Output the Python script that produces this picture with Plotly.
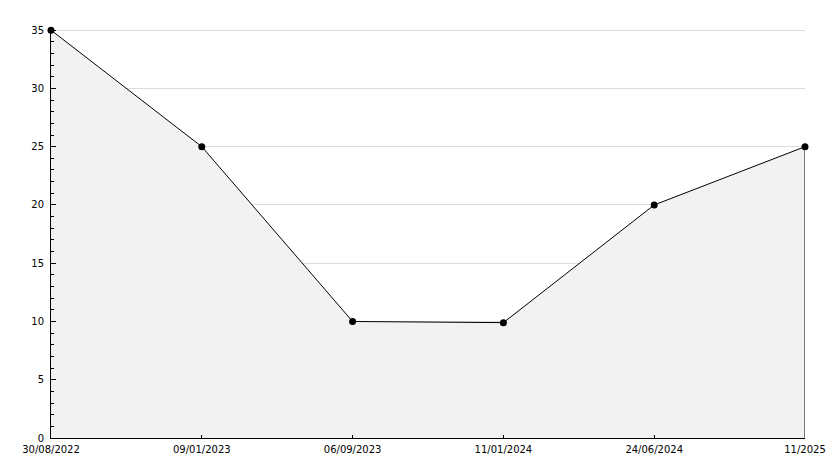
import plotly.graph_objects as go

labels = ["30/08/2022", "09/01/2023", "06/09/2023", "11/01/2024", "24/06/2024", "11/2025"]
values = [35, 25, 10, 9.9, 20, 25]
y_ticks = [0, 5, 10, 15, 20, 25, 30, 35]

xs = list(range(len(labels)))

fig = go.Figure()
fig.add_trace(go.Scatter(
    x=xs, y=values, mode="lines+markers", fill="tozeroy",
    fillcolor="#f2f2f2",
    line=dict(color="black", width=1),
    marker=dict(color="black", size=7, symbol="circle"),
    hoverinfo="skip", showlegend=False, cliponaxis=False,
))
# closing edge at the last point
fig.add_trace(go.Scatter(
    x=[xs[-1], xs[-1]], y=[0, values[-1]], mode="lines",
    line=dict(color="black", width=1), hoverinfo="skip", showlegend=False,
    cliponaxis=False,
))

fig.update_layout(
    width=834, height=468,
    margin=dict(l=51, r=29, t=29, b=30),
    paper_bgcolor="white", plot_bgcolor="white",
    font=dict(family="DejaVu Sans", size=10, color="black"),
    xaxis=dict(
        range=[0, len(labels) - 1], tickvals=xs, ticktext=labels,
        showgrid=False, zeroline=False, showline=True, linecolor="black",
        linewidth=1, ticks="inside", ticklen=3, tickcolor="black",
        tickfont=dict(size=10), automargin=False, ticklabelstandoff=2,
    ),
    yaxis=dict(
        range=[0, 35.1], tickvals=y_ticks, showgrid=True, gridcolor="#dcdcdc",
        gridwidth=1, zeroline=False, showline=True, linecolor="black",
        linewidth=1, ticks="inside", ticklen=5, tickcolor="black",
        minor=dict(dtick=1, ticks="inside", ticklen=3, tickcolor="black", showgrid=False),
        tickfont=dict(size=10), automargin=False, ticklabelstandoff=4,
    ),
)

fig.write_html(
    "out.html",
    config={"displayModeBar": False},
    post_script="document.body.style.margin='0';document.body.style.overflow='hidden';",
)
